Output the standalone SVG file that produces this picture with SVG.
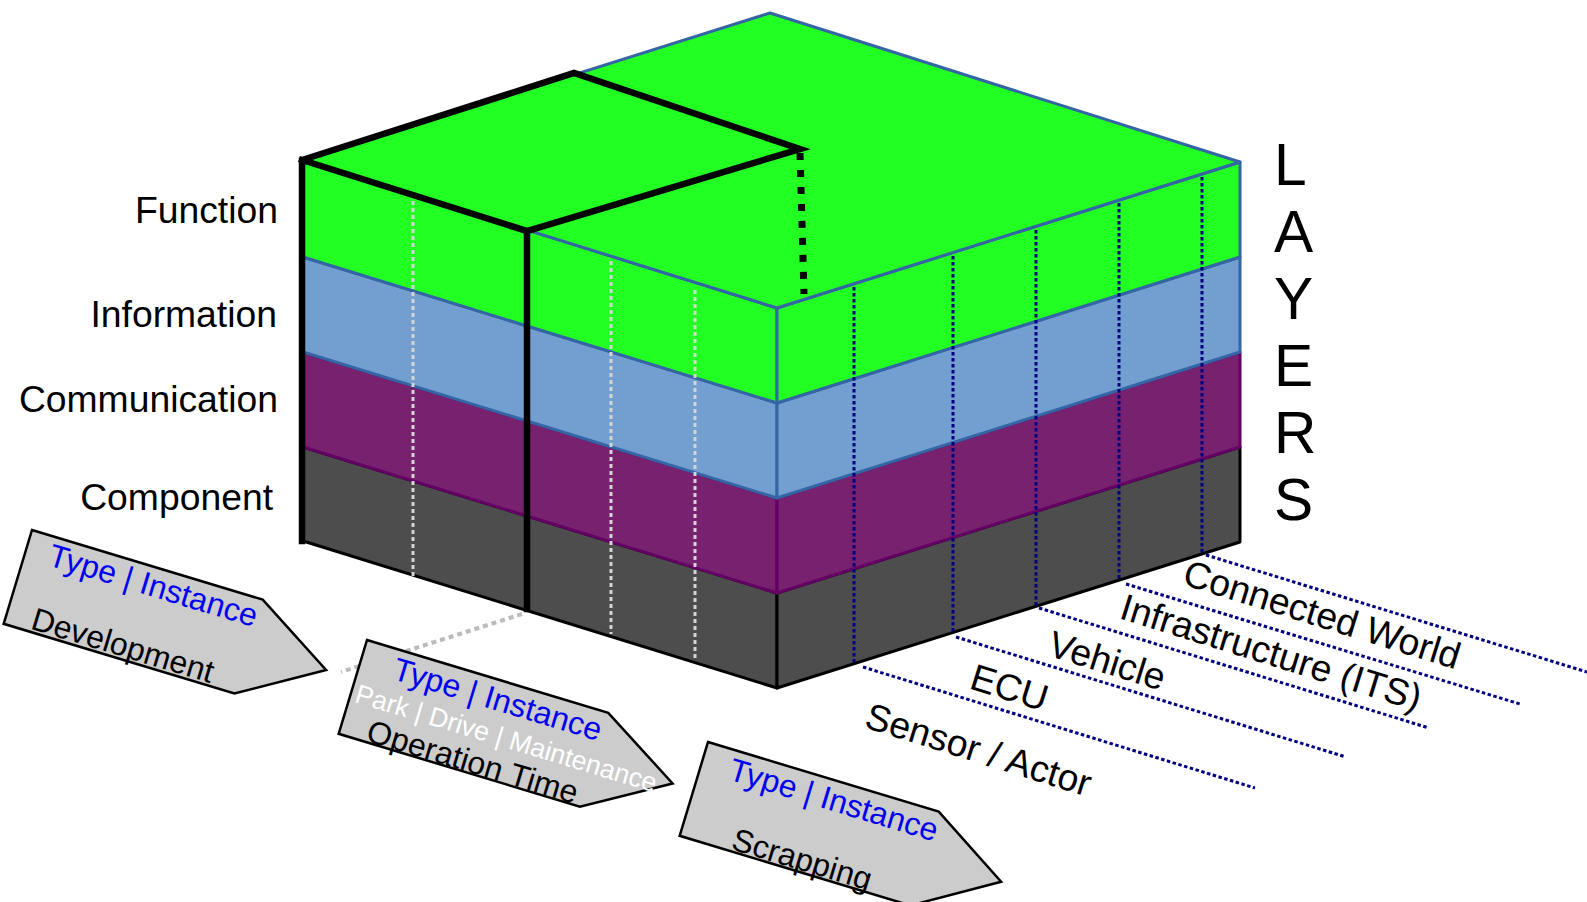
<svg xmlns="http://www.w3.org/2000/svg" width="1587" height="902" viewBox="0 0 1587 902">
<style>
text{font-family:"Liberation Sans",Arial,sans-serif}
.lbl{font-size:37.3px;fill:#000}
.big{font-size:58.7px;fill:#000}
.green{fill:#22ff22;stroke:#3465a4;stroke-width:3;stroke-linejoin:round}
.blue{fill:#729fcf;stroke:#3465a4;stroke-width:3;stroke-linejoin:round}
.purple{fill:#77216f;stroke:#650065;stroke-width:3;stroke-linejoin:round}
.gray{fill:#4d4d4d;stroke:#000;stroke-width:3;stroke-linejoin:round}
.bk{fill:none;stroke:#000;stroke-width:6.5;stroke-linejoin:miter;stroke-linecap:square}
.bkdot{fill:none;stroke:#000;stroke-width:7;stroke-dasharray:7 10}
.wdot{fill:none;stroke:#d4d4d4;stroke-width:3;stroke-dasharray:4 3}
.ndot{fill:none;stroke:#000080;stroke-width:3;stroke-dasharray:3.5 2.5}
.gdot{fill:none;stroke:#bbbbbb;stroke-width:4;stroke-dasharray:5 4}
.chev{fill:#cccccc;stroke:#000;stroke-width:2.5;stroke-linejoin:miter}
.ti{font-size:32px;fill:#0000ee}
.ph{font-size:32px;fill:#000}
.sub{font-size:26.7px;fill:#ffffff}
</style>

<g id="layer-component">
<polygon class="gray" points="303,447 777,593 777,688 303,541"/>
<polygon class="gray" points="777,593 1240,447 1240,542 777,688"/>
</g>
<g id="layer-communication">
<polygon class="purple" points="303,352 777,498 777,593 303,447"/>
<polygon class="purple" points="777,498 1240,352 1240,447 777,593"/>
</g>
<g id="layer-information">
<polygon class="blue" points="303,257 777,403 777,498 303,352"/>
<polygon class="blue" points="777,403 1240,257 1240,352 777,498"/>
</g>
<g id="layer-function">
<polygon class="green" points="303,160 777,308 777,403 303,257"/>
<polygon class="green" points="777,308 1240,162 1240,257 777,403"/>
<polygon class="green" points="303,160 770,13 1240,162 777,308"/>
</g>

<g id="connectors">
<line class="wdot" x1="413" y1="201" x2="413" y2="576"/>
<line class="wdot" x1="611" y1="261" x2="611" y2="634"/>
<line class="wdot" x1="695" y1="290" x2="695" y2="661"/>
<line class="ndot" x1="854" y1="287" x2="854" y2="663"/>
<line class="ndot" x1="953" y1="256" x2="953" y2="632"/>
<line class="ndot" x1="1036" y1="230" x2="1036" y2="606"/>
<line class="ndot" x1="1119" y1="203" x2="1119" y2="580"/>
<line class="ndot" x1="1202" y1="177" x2="1202" y2="553"/>
<line class="ndot" x1="863" y1="667" x2="1255" y2="788"/>
<line class="ndot" x1="956" y1="637" x2="1346" y2="757"/>
<line class="ndot" x1="1039" y1="608" x2="1429" y2="728"/>
<line class="ndot" x1="1126" y1="584" x2="1520" y2="704"/>
<line class="ndot" x1="1206" y1="555" x2="1587" y2="672"/>
<line class="gdot" x1="522" y1="614" x2="341" y2="672"/>
<line class="bkdot" x1="800" y1="153" x2="804" y2="294"/>
</g>

<g id="focus-box">
<polyline class="bk" points="302,541 302,160 574,73 800,149 527,231 302,160"/>
<line class="bk" x1="527" y1="231" x2="527" y2="609"/>
</g>

<g id="layer-labels">
<text class="lbl" x="278" y="223" text-anchor="end">Function</text>
<text class="lbl" x="277" y="327" text-anchor="end">Information</text>
<text class="lbl" x="278" y="412" text-anchor="end">Communication</text>
<text class="lbl" x="273" y="510" text-anchor="end">Component</text>
</g>

<g id="layers-title">
<text class="big" x="1274" y="185">L</text>
<text class="big" x="1274" y="252">A</text>
<text class="big" x="1274" y="319">Y</text>
<text class="big" x="1274" y="386">E</text>
<text class="big" x="1274" y="453">R</text>
<text class="big" x="1274" y="520">S</text>
</g>

<g id="scope-labels">
<text class="lbl" transform="translate(863,727) rotate(17.3)">Sensor / Actor</text>
<text class="lbl" transform="translate(968,688) rotate(17.3)">ECU</text>
<text class="lbl" transform="translate(1046,655) rotate(17.3)">Vehicle</text>
<text class="lbl" transform="translate(1118,618) rotate(17.3)">Infrastructure (ITS)</text>
<text class="lbl" transform="translate(1181,584) rotate(17.3)">Connected World</text>
</g>

<g id="phase-development" transform="translate(32,530) rotate(16.8)">
<polygon class="chev" points="0,0 241,0 322,49 241,98 0,98"/>
<text class="ti" x="24" y="29">Type | Instance</text>
<text class="ph" x="26" y="95">Development</text>
</g>

<g id="phase-operation" transform="translate(367,640) rotate(16.8)">
<polygon class="chev" points="0,0 252,0 334,49 252,98 0,98"/>
<text class="ti" x="34" y="30">Type | Instance</text>
<text class="sub" x="5" y="63">Park | Drive | Maintenance</text>
<text class="ph" x="27" y="97">Operation Time</text>
</g>

<g id="phase-scrapping" transform="translate(708,742) rotate(16.8)">
<polygon class="chev" points="0,0 241,0 321,49 241,98 0,98"/>
<text class="ti" x="29" y="30">Type | Instance</text>
<text class="ph" x="52" y="96">Scrapping</text>
</g>
</svg>
